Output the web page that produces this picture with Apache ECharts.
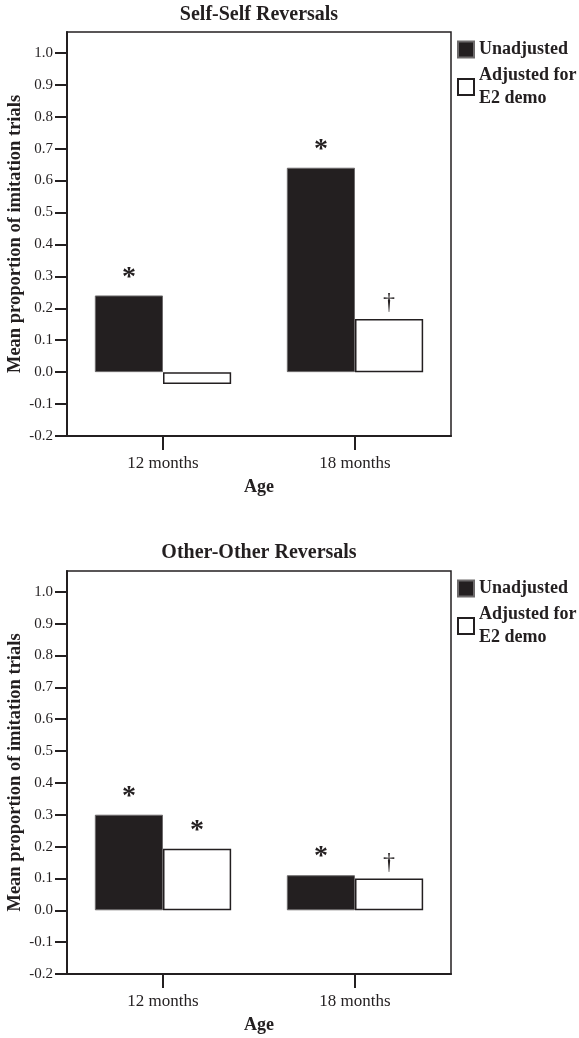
<!DOCTYPE html>
<html>
<head>
<meta charset="utf-8">
<script src="https://cdn.jsdelivr.net/npm/echarts@6/dist/echarts.min.js"></script>
<style>
html,body{margin:0;padding:0;background:#fff;}
#c{width:579px;height:1038px;}
</style>
</head>
<body>
<div id="c"></div>
<script>
const categories = ['12 months', '18 months'];
const seriesNames = ['Unadjusted', 'Adjusted for\nE2 demo'];
const titles = ['Self-Self Reversals', 'Other-Other Reversals'];
const yTicks = [-0.2, -0.1, 0.0, 0.1, 0.2, 0.3, 0.4, 0.5, 0.6, 0.7, 0.8, 0.9, 1.0];

const selfUnadjusted = [0.24, 0.64];
const selfAdjusted = [-0.037, 0.166];
const otherUnadjusted = [0.30, 0.11];
const otherAdjusted = [0.193, 0.10];

const selfUnadjMarks = ['*', '*'];
const selfAdjMarks = ['', '\u2020'];
const otherUnadjMarks = ['*', '*'];
const otherAdjMarks = ['*', '\u2020'];

const FONT = '"Liberation Serif", "Times New Roman", serif';
const INK = '#231f20';

const chart = echarts.init(document.getElementById('c'), null, {renderer: 'canvas'});

const grids = [
  {left: 67, right: 128, top: 32, height: 404},
  {left: 67, right: 128, top: 571, height: 403}
];
const plotCenterX = 67 + (579 - 128 - 67) / 2;

function xAxisFor(i) {
  return {
    type: 'category', gridIndex: i, data: categories,
    boundaryGap: true,
    axisLine: {show: true, onZero: false, lineStyle: {color: INK, width: 2}},
    axisTick: {show: true, alignWithLabel: true, length: 14, inside: false, lineStyle: {color: INK, width: 2}},
    axisLabel: {color: INK, fontFamily: FONT, fontSize: 17, margin: 19},
    name: 'Age', nameLocation: 'middle', nameGap: 42, nameMoveOverlap: false,
    nameTextStyle: {color: INK, fontFamily: FONT, fontSize: 18, fontWeight: 'bold'},
    splitLine: {show: false}
  };
}
function yAxisFor(i) {
  return {
    type: 'value', gridIndex: i, min: -0.2, max: 1.065, interval: 0.1,
    axisLine: {show: true, lineStyle: {color: INK, width: 2}},
    axisTick: {show: true, length: 12, inside: false, customValues: yTicks, lineStyle: {color: INK, width: 2}},
    axisLabel: {color: INK, fontFamily: FONT, fontSize: 15, margin: 14, customValues: yTicks,
      formatter: v => v.toFixed(1)},
    splitLine: {show: false},
    name: 'Mean proportion of imitation trials', nameLocation: 'middle', nameGap: 42, nameMoveOverlap: false,
    nameTextStyle: {color: INK, fontFamily: FONT, fontSize: 18.5, fontWeight: 'bold'}
  };
}

function barSeries(i, name, data, marks, filled) {
  const isDagger = marks.map(m => m === '\u2020');
  return {
    type: 'bar', name: name, xAxisIndex: i, yAxisIndex: i,
    data: data.map((v, k) => ({
      value: v,
      label: {
        show: marks[k] !== '',
        position: 'top',
        distance: 4,
        formatter: marks[k],
        fontFamily: FONT,
        fontSize: isDagger[k] ? 24 : 28,
        fontWeight: isDagger[k] ? 'normal' : 'bold',
        color: INK
      }
    })),
    barGap: '0%', barCategoryGap: '29%',
    itemStyle: filled
      ? {color: INK, borderColor: '#6d6a6b', borderWidth: 1}
      : {color: '#ffffff', borderColor: INK, borderWidth: 1.5},
    emphasis: {disabled: true},
    animation: false
  };
}

function legendFor(top) {
  return {
    orient: 'vertical', left: 457, top: top, padding: 0, itemWidth: 16, itemHeight: 16, itemGap: 3,
    selectedMode: false, icon: 'rect',
    data: seriesNames,
    textStyle: {color: INK, fontFamily: FONT, fontSize: 18, fontWeight: 'bold', lineHeight: 23},
  };
}

const measureCtx = document.createElement('canvas').getContext('2d');
function titleFor(text, top) {
  measureCtx.font = 'bold 20px ' + FONT;
  const w = measureCtx.measureText(text).width;
  return {text: text, left: plotCenterX - w / 2, top: top, padding: 0,
    textStyle: {color: INK, fontFamily: FONT, fontSize: 20, fontWeight: 'bold'}};
}

const option = {
  backgroundColor: '#fff',
  animation: false,
  title: [titleFor(titles[0], 5), titleFor(titles[1], 543)],
  legend: [legendFor(38), legendFor(577)],
  grid: grids.map(g => Object.assign({show: true, borderColor: INK, borderWidth: 1.5, backgroundColor: 'transparent', containLabel: false, outerBoundsMode: 'none'}, g)),
  xAxis: [xAxisFor(0), xAxisFor(1)],
  yAxis: [yAxisFor(0), yAxisFor(1)],
  series: [
    barSeries(0, seriesNames[0], selfUnadjusted, selfUnadjMarks, true),
    barSeries(0, seriesNames[1], selfAdjusted, selfAdjMarks, false),
    barSeries(1, seriesNames[0], otherUnadjusted, otherUnadjMarks, true),
    barSeries(1, seriesNames[1], otherAdjusted, otherAdjMarks, false)
  ]
};
chart.setOption(option);
</script>
</body>
</html>
